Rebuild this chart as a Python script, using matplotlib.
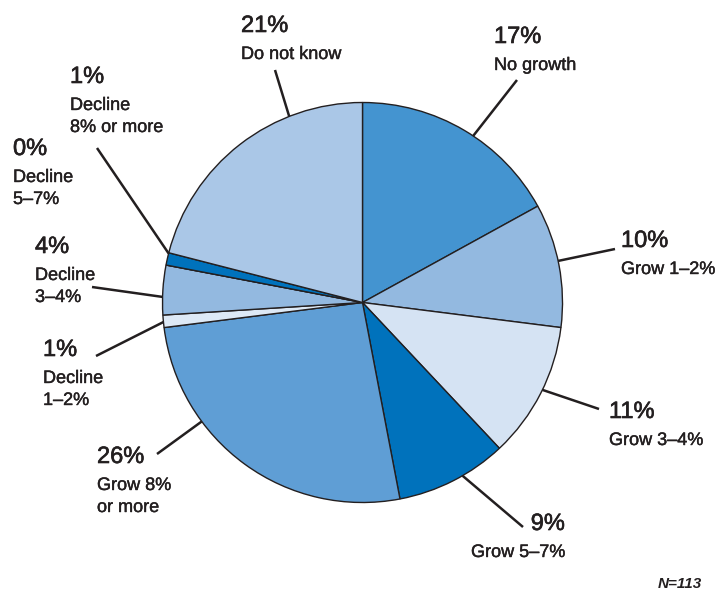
import numpy as np
import matplotlib
matplotlib.use("Agg")
import matplotlib.pyplot as plt
import matplotlib.patheffects as pe

plt.rcParams['font.family'] = ['Liberation Sans', 'DejaVu Sans']

# survey answers, clockwise from 12 o'clock
categories = ["No growth", "Grow 1–2%", "Grow 3–4%", "Grow 5–7%", "Grow 8%\nor more",
              "Decline\n1–2%", "Decline\n3–4%", "Decline\n5–7%", "Decline\n8% or more",
              "Do not know"]
shares = [17, 10, 11, 9, 26, 1, 4, 0, 1, 21]
colors = ["#4494D0", "#93B9E0", "#D5E3F3", "#0072BC", "#5F9ED5",
          "#DDE9F6", "#93B9E0", "#AAC7E7", "#0072BC", "#AAC7E7"]
sample_note = "N=113"

W, H = 720, 590
ink = "#231F20"
cx, cy, R = 362.5, H - 302.5, 200

fig = plt.figure(figsize=(7.2, 5.9), dpi=100)
ax = fig.add_axes([0, 0, 1, 1])
ax.pie(shares, colors=colors, startangle=90, counterclock=False,
       center=(cx, cy), radius=R,
       wedgeprops=dict(edgecolor=ink, linewidth=1.0))
ax.set_xlim(0, W)
ax.set_ylim(0, H)
ax.set_aspect('equal')
ax.axis('off')

# slightly heavier strokes, closer to a medium weight
pct_fx = [pe.withStroke(linewidth=0.45, foreground=ink)]
lab_fx = [pe.withStroke(linewidth=0.3, foreground=ink)]

# label placement: (text x, pct baseline, align, leader angle on rim, leader outer end)
layout = [
    (494, 43, 'left', 56.4, (517, 80)),
    (621, 247, 'left', 12.0, (615, 249)),
    (609, 418, 'left', -25.9, (599, 409)),
    (565, 530, 'right', -60.0, (523, 527)),
    (97, 463, 'left', -143.5, (157, 454)),
    (43, 356, 'left', 185.6, (96, 356)),
    (35, 253, 'left', 178.4, (92, 287)),
    (13, 155, 'left', None, None),
    (70, 83, 'left', 165.8, (97, 148)),
    (241, 32, 'left', 111.5, (275, 70)),
]

for name, val, (tx, base, ha, ang, outer) in zip(categories, shares, layout):
    ax.text(tx, H - base, f"{val}%", fontsize=17, color=ink, ha=ha, va='baseline',
            path_effects=pct_fx)
    for k, line in enumerate(name.split("\n")):
        ax.text(tx, H - (base + 27 + 22 * k), line, fontsize=13, color=ink,
                ha=ha, va='baseline', path_effects=lab_fx)
    if ang is not None:
        a = np.radians(ang)
        ax.plot([cx + R * np.cos(a), outer[0]], [cy + R * np.sin(a), H - outer[1]],
                color=ink, lw=1.8, solid_capstyle='butt')

ax.text(702, H - 588, sample_note, fontsize=11, color=ink, ha='right', va='baseline',
        style='italic', weight='bold')

fig.savefig("out.png", dpi=100)
